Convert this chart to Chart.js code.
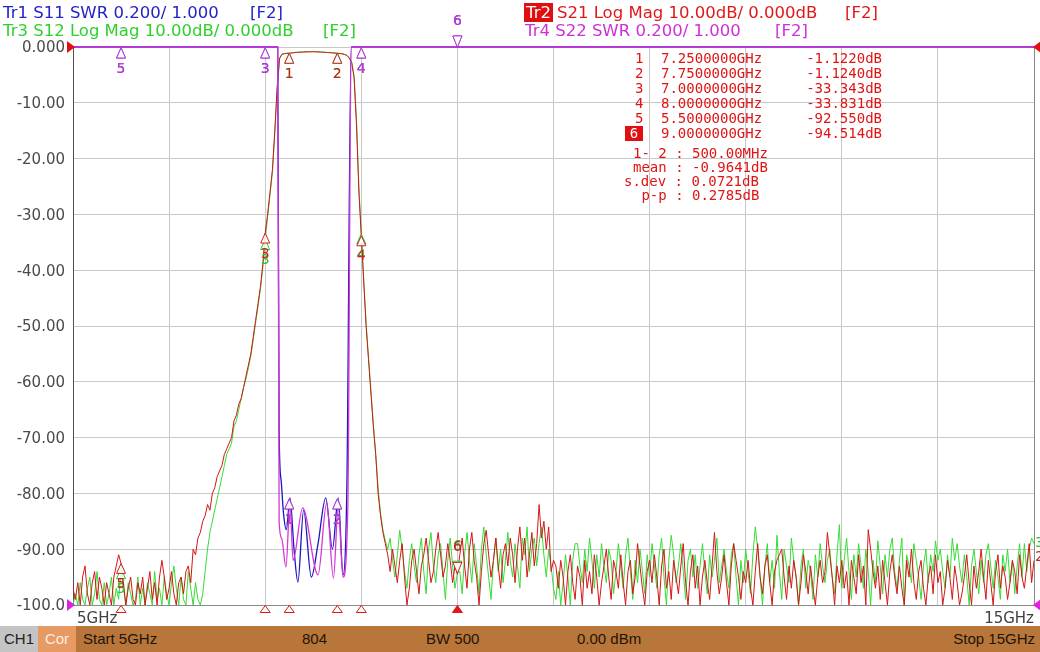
<!DOCTYPE html>
<html>
<head>
<meta charset="utf-8">
<script src="https://cdn.jsdelivr.net/npm/chart.js@4.4.1/dist/chart.umd.min.js"></script>
<style>
  html, body { margin: 0; padding: 0; background: #fff; }
  #wrap { position: relative; width: 1040px; height: 652px; overflow: hidden; font-family: "DejaVu Sans", sans-serif; }
  #c { position: absolute; left: 0; top: 0; }
  .hd { position: absolute; font-size: 16.5px; line-height: 20px; white-space: pre; }
  .mk { position: absolute; font-family: "DejaVu Sans Mono", monospace; font-size: 14px; line-height: 15px; color: #e01414; white-space: pre; }
  .ax { position: absolute; font-size: 15px; line-height: 16px; color: #404040; }
  #bar { position: absolute; left: 0; top: 626px; width: 1040px; height: 26px; background: #b8763a;
         font-family: "Liberation Sans", Arial, sans-serif; font-size: 15px; line-height: 26px; color: #1e1408; }
  #bar div { position: absolute; top: 0; height: 26px; white-space: pre; }
</style>
</head>
<body>
<div id="wrap">
  <canvas id="c" width="1040" height="652"></canvas>

  <div class="hd" style="left:3px;top:3px;color:#2323c8">Tr1 S11 SWR 0.200/ 1.000</div>
  <div class="hd" style="left:250px;top:3px;color:#2323c8">[F2]</div>
  <div class="hd" style="left:3px;top:21px;color:#2ed02e">Tr3 S12 Log Mag 10.00dB/ 0.000dB</div>
  <div class="hd" style="left:323px;top:21px;color:#2ed02e">[F2]</div>
  <div class="hd" style="left:524px;top:3px;width:29px;height:19px;background:#e01010;color:#fff;text-align:center;line-height:19px">Tr2</div>
  <div class="hd" style="left:557px;top:3px;color:#e01818">S21 Log Mag 10.00dB/ 0.000dB</div>
  <div class="hd" style="left:845px;top:3px;color:#e01818">[F2]</div>
  <div class="hd" style="left:525px;top:21px;color:#cc30dc">Tr4 S22 SWR 0.200/ 1.000</div>
  <div class="hd" style="left:775px;top:21px;color:#cc30dc">[F2]</div>

  <div id="table"></div>

  <div class="ax" style="left:77px;top:610px">5GHz</div>
  <div class="ax" style="right:6px;top:610px">15GHz</div>

  <div id="bar">
    <div style="left:0;width:38px;background:#c4c4c4;text-align:center;color:#222">CH1</div>
    <div style="left:38px;width:38px;background:#e89a64;text-align:center;color:#fbeee2">Cor</div>
    <div style="left:83px">Start 5GHz</div>
    <div style="left:302px">804</div>
    <div style="left:426px">BW 500</div>
    <div style="left:577px">0.00 dBm</div>
    <div style="right:5px">Stop 15GHz</div>
  </div>
</div>

<script>
// sweep
const sweepGHz = [5, 15];

// Tr2 S21 log mag (dB), 401 points across the sweep
const s21Db = [
  -97,-99,-96,-100,-95,-93,-98,-100,-96,-94,
  -99,-95,-97,-100,-96,-98,-100,-95,-93,-91,
  -92.55,-96,-100,-97,-95,-99,-100,-96,-98,-95,
  -100,-97,-94,-99,-96,-100,-95,-92,-95,-99,
  -97,-94,-98,-100,-96,-95,-98,-94,-93,-96,
  -90,-91,-88,-87,-85,-84,-82,-83,-80,-79,
  -77,-76,-75,-73,-72,-71,-70,-67,-66,-64,
  -63,-61,-59,-57,-55,-52,-49,-46,-43,-39,
  -33.343,-30,-26,-22,-15,-7,-2,-1.3,-1.2,-1.15,
  -1.122,-1.08,-1.02,-0.98,-0.94,-0.92,-0.9,-0.88,-0.87,-0.86,
  -0.85,-0.86,-0.88,-0.9,-0.93,-0.96,-0.99,-1.02,-1.05,-1.09,
  -1.124,-1.16,-1.22,-1.35,-1.5,-2.0,-2.8,-5.5,-14,-26,
  -33.831,-42,-50,-56,-62,-68,-73,-80,-84,-87,
  -89,-91,-94,-90,-93,-96,-92,-89,-95,-100,
  -97,-92,-90,-94,-98,-93,-91,-88,-92,-96,
  -94,-90,-87,-91,-95,-93,-89,-92,-96,-93,
  -94.514,-91,-88,-93,-97,-90,-87,-92,-95,-100,
  -94,-89,-86.6,-91,-95,-92,-88,-93,-97,-91,
  -89,-93,-88,-91,-96,-90,-86,-92,-88,-95,
  -91,-87,-93,-89,-82,-88,-85,-90,-86,-94,
  -92,-93,-97,-92,-95,-100,-94,-91,-96,-99,
  -93,-95,-100,-92,-97,-94,-98,-91,-95,-100,
  -96,-93,-90,-95,-99,-92,-94,-97,-91,-96,
  -100,-94,-92,-98,-95,-89,-93,-97,-100,-94,
  -92,-96,-91,-95,-100,-93,-90,-97,-94,-99,
  -92,-95,-98,-93,-89,-96,-100,-94,-91,-97,
  -93,-100,-95,-92,-96,-99,-93,-87,-94,-98,
  -95,-91,-96,-100,-93,-89,-92,-95,-99,-94,
  -96,-92,-97,-100,-94,-89,-95,-98,-93,-91,
  -96,-100,-94,-92,-91,-90,-95,-99,-93,-97,
  -92,-95,-100,-96,-91,-94,-98,-93,-97,-100,
  -95,-92,-96,-94,-87,-91,-95,-100,-93,-96,
  -92,-97,-94,-100,-92,-95,-98,-91,-96,-93,
  -100,-86.5,-90,-94,-97,-93,-99,-92,-96,-100,
  -94,-91,-95,-98,-93,-97,-100,-92,-95,-90,
  -96,-99,-94,-92,-97,-100,-95,-93,-98,-91,
  -96,-94,-100,-97,-92,-95,-99,-93,-96,-100,
  -98,-95,-91,-96,-100,-93,-97,-94,-90,-95,
  -99,-92,-96,-100,-94,-91,-97,-93,-95,-99,
  -96,-92,-94,-98,-91,-95,-97,-93,-89,-96,
  -92
];

// Tr3 S12 log mag (dB), same sweep
const s12Db = [
  -100,-98,-100,-96,-99,-100,-97,-95,-100,-98,
  -94,-99,-100,-96,-100,-98,-95,-100,-97,-99,
  -93.5,-97,-100,-96,-98,-100,-99,-95,-100,-97,
  -100,-96,-98,-100,-94,-99,-97,-100,-95,-98,
  -100,-96,-93,-97,-100,-95,-99,-100,-94,-97,
  -100,-96,-99,-100,-98,-94,-90,-87,-85,-83,
  -81,-79,-77,-75,-73,-72,-71,-68,-67,-65,
  -63,-61,-59.5,-57.5,-55.5,-52.5,-49.5,-46.5,-43.5,-39.5,
  -34.5,-30.5,-26.5,-22.5,-15.5,-7.5,-2.1,-1.28,-1.17,-1.12,
  -1.10,-1.05,-1.0,-0.95,-0.92,-0.9,-0.88,-0.86,-0.85,-0.84,
  -0.84,-0.85,-0.87,-0.89,-0.92,-0.95,-0.98,-1.01,-1.04,-1.08,
  -1.11,-1.15,-1.2,-1.32,-1.48,-2.0,-2.7,-5.2,-13,-25,
  -33.5,-41.5,-49.5,-55.5,-61.5,-67.5,-73,-79,-83.5,-86.5,
  -88.5,-90,-88,-92,-95,-91,-86.6,-90,-94,-97,
  -92,-89,-93,-96,-91,-88,-94,-98,-90,-87,
  -93,-96,-91,-89,-94,-99,-92,-88,-93,-97,
  -94.3,-94,-98,-91,-87,-92,-96,-89,-93,-98,
  -90,-86,-91,-95,-99,-92,-88,-94,-90,-96,
  -92,-87,-92,-95,-89,-93,-97,-88,-91,-86,
  -94,-90,-88,-93,-89,-86,-91,-95,-90,-93,
  -97,-99,-94,-100,-96,-91,-95,-100,-92,-89,
  -89,-93,-96,-90,-94,-88,-92,-97,-91,-95,
  -89,-93,-96,-90,-92,-98,-94,-89,-93,-97,
  -91,-88,-94,-99,-92,-96,-90,-94,-98,-91,
  -95,-89,-93,-97,-91,-88,-95,-100,-92,-87.5,
  -91,-96,-93,-89,-94,-99,-92,-90,-95,-91,
  -97,-93,-89,-94,-98,-91,-95,-92,-88,-96,
  -93,-90,-94,-97,-91,-89,-95,-100,-92,-96,
  -90,-94,-98,-91,-86,-90,-95,-100,-93,-89,
  -96,-92,-97,-87.5,-94,-99,-90,-93,-96,-88,
  -92,-95,-100,-93,-90,-97,-92,-94,-99,-91,
  -95,-89,-93,-96,-92,-90,-95,-98,-91,-85.6,
  -97,-92,-88,-94,-99,-91,-95,-89,-93,-97,
  -90,-94,-100,-92,-96,-88.5,-93,-98,-91,-95,
  -90,-88,-94,-97,-92,-88,-100,-91,-93,-96,
  -89,-92,-95,-99,-93,-90,-96,-91,-94,-88.5,
  -92,-90,-94,-97,-91,-95,-88,-92,-89,-93,
  -96,-91,-95,-100,-93,-90,-94,-98,-92,-96,
  -91,-89,-93,-97,-92,-95,-99,-91,-94,-90,
  -96,-92,-98,-93,-89,-95,-89,-94,-90,-88,
  -89
];

// Tr1 S11 and Tr4 S22 (SWR), only the passband comes down from the top
const s11Freq = [5, 7.13, 7.145, 7.165, 7.19, 7.22, 7.258, 7.30, 7.34, 7.40, 7.48, 7.55, 7.63, 7.70, 7.76, 7.81, 7.85, 7.895, 15];
const s11Swr  = [3, 3, 1.62, 1.45, 1.33, 1.27, 1.384, 1.2, 1.082, 1.34, 1.10, 1.22, 1.384, 1.2, 1.384, 1.108, 1.43, 3, 3];
const s22Freq = [5, 7.13, 7.145, 7.17, 7.216, 7.258, 7.29, 7.39, 7.55, 7.64, 7.71, 7.76, 7.81, 7.86, 7.895, 15];
const s22Swr  = [3, 3, 1.30, 1.24, 1.136, 1.37, 1.16, 1.348, 1.108, 1.366, 1.096, 1.352, 1.10, 1.352, 3, 3];

// markers
const markerNames = [1, 2, 3, 4, 5, 6];
const markerFreqs = [7.25, 7.75, 7.0, 8.0, 5.5, 9.0];
const markerS21 = [-1.122, -1.124, -33.343, -33.831, -92.55, -94.514];
const markerS12 = [-1.12, -1.11, -34.5, -33.5, -93.5, -94.3];
const markerS11 = [1.38, 1.38, 3, 3, 3, 3];
const markerS22 = [1.38, 1.38, 3, 3, 3, 3];
const activeMarker = 5;
const statLines = ["1- 2 : 500.00MHz", "mean : -0.9641dB", "s.dev : 0.0721dB", " p-p : 0.2785dB"];
const statLeft = [633, 633, 624, 633];

const yTickLabels = ["0.000", "-10.00", "-20.00", "-30.00", "-40.00", "-50.00", "-60.00", "-70.00", "-80.00", "-90.00", "-100.0"];

// marker table
const table = document.getElementById("table");
function put(txt, left, top, extra) {
  const d = document.createElement("div");
  d.className = "mk";
  d.textContent = txt;
  d.style.left = left + "px";
  d.style.top = top + "px";
  if (extra) Object.assign(d.style, extra);
  table.appendChild(d);
}
markerNames.forEach((n, i) => {
  const top = 50.5 + i * 15;
  if (i === activeMarker) {
    put(String(n), 625, top, { width: "18px", textAlign: "center", background: "#e01010", color: "#fff" });
  } else {
    put(String(n), 635, top);
  }
  put(markerFreqs[i].toFixed(7) + "GHz", 661, top);
  put(markerS21[i].toPrecision(5) + "dB", 0, top, { left: "auto", right: (1040 - 882) + "px" });
});
statLines.forEach((s, i) => put(s, statLeft[i], 145.5 + i * 14));

// chart
const step = (sweepGHz[1] - sweepGHz[0]) / (s21Db.length - 1);
const freqs = s21Db.map((_, i) => sweepGHz[0] + i * step);
const pts = (xs, ys) => ys.map((y, i) => ({ x: xs[i], y: y }));

function tri(ctx, x, y, dir, w, h, fill) {
  ctx.beginPath();
  ctx.moveTo(x, y);
  ctx.lineTo(x - w / 2, y + dir * h);
  ctx.lineTo(x + w / 2, y + dir * h);
  ctx.closePath();
  ctx.fillStyle = fill;
  ctx.fill();
  ctx.stroke();
}

const markerPlugin = {
  id: "markers",
  afterDatasetsDraw(chart) {
    const { ctx, chartArea: a, scales } = chart;
    const xs = scales.x, db = scales.y, swr = scales.swr;
    ctx.save();
    ctx.lineWidth = 1;
    ctx.font = "14px 'DejaVu Sans'";
    ctx.textAlign = "center";
    ctx.textBaseline = "middle";

    // right border
    ctx.strokeStyle = "#8a8a8a";
    ctx.beginPath();
    ctx.moveTo(Math.round(a.right) + 0.5, a.top);
    ctx.lineTo(Math.round(a.right) + 0.5, a.bottom);
    ctx.stroke();

    // reference level arrows
    const y0 = db.getPixelForValue(0), y1 = swr.getPixelForValue(1);
    [[y0, "#e01010"], [y1, "#e020e0"]].forEach(([y, c]) => {
      ctx.fillStyle = c;
      ctx.beginPath();
      ctx.moveTo(a.left + 2, y); ctx.lineTo(a.left - 6, y - 6); ctx.lineTo(a.left - 6, y + 6); ctx.closePath(); ctx.fill();
      ctx.beginPath();
      ctx.moveTo(a.right - 1, y); ctx.lineTo(a.right + 7, y - 6); ctx.lineTo(a.right + 7, y + 6); ctx.closePath(); ctx.fill();
    });

    const traces = [
      { vals: markerS12, scale: db, color: "#2fc02f" },
      { vals: markerS21, scale: db, color: "#c8241c" },
      { vals: markerS11, scale: swr, color: "#2424c4" },
      { vals: markerS22, scale: swr, color: "#c63ad6" }
    ];
    traces.forEach(t => {
      t.vals.forEach((v, i) => {
        const px = xs.getPixelForValue(markerFreqs[i]);
        const py = Math.min(Math.max(t.scale.getPixelForValue(v), a.top + 1), a.bottom);
        ctx.strokeStyle = t.color;
        if (i === activeMarker) {
          tri(ctx, px, py - 1, -1, 9, 11, "#fff");
          ctx.fillStyle = t.color;
          ctx.fillText(String(markerNames[i]), px, py - 27);
        } else {
          tri(ctx, px, py, 1, 9, 10, "rgba(255,255,255,0.85)");
          ctx.fillStyle = t.color;
          ctx.fillText(String(markerNames[i]), px, py + 21);
        }
      });
    });

    // stimulus markers on the frequency axis
    ctx.strokeStyle = "#e01818";
    markerFreqs.forEach((f, i) => {
      const px = xs.getPixelForValue(f);
      tri(ctx, px, a.bottom + 0.5, 1, 10, 7, i === activeMarker ? "#e01818" : "#fff");
    });

    // trace end labels
    ctx.textAlign = "left";
    ctx.fillStyle = "#2fc02f";
    ctx.fillText("3", a.right + 1, db.getPixelForValue(s12Db[s12Db.length - 1]));
    ctx.fillStyle = "#c8241c";
    ctx.fillText("2", a.right + 1, db.getPixelForValue(s21Db[s21Db.length - 1]) - 3);
    ctx.restore();
  }
};

new Chart(document.getElementById("c"), {
  type: "line",
  data: {
    datasets: [
      { label: "S22", data: pts(s22Freq, s22Swr), yAxisID: "swr", borderColor: "#d636d6", borderWidth: 1.3, cubicInterpolationMode: "monotone", order: 0, clip: 2 },
      { label: "S11", data: pts(s11Freq, s11Swr), yAxisID: "swr", borderColor: "#1818c0", borderWidth: 1.3, cubicInterpolationMode: "monotone", order: 1, clip: 2 },
      { label: "S21", data: pts(freqs, s21Db), yAxisID: "y", borderColor: "#d41616", borderWidth: 1, order: 2 },
      { label: "S12", data: pts(freqs, s12Db), yAxisID: "y", borderColor: "#36dc36", borderWidth: 1, order: 3 }
    ]
  },
  options: {
    responsive: false,
    animation: false,
    devicePixelRatio: 1,
    layout: { padding: { top: 47, right: 6, bottom: 47, left: 0 } },
    plugins: { legend: { display: false }, tooltip: { enabled: false } },
    elements: { point: { radius: 0 }, line: { tension: 0 } },
    scales: {
      x: {
        type: "linear", min: sweepGHz[0], max: sweepGHz[1],
        ticks: { display: false, stepSize: 1 },
        grid: { color: "#c8c8c8", drawTicks: false },
        border: { color: "#8a8a8a" },
        afterFit: s => { s.height = 0; }
      },
      y: {
        min: -100, max: 0,
        ticks: { stepSize: 10, padding: 8, labelOffset: 1.5, color: "#4a4a4a", font: { family: "DejaVu Sans", size: 15 },
                 callback: v => yTickLabels[Math.round(-v / 10)] },
        grid: { color: "#c8c8c8", drawTicks: false },
        border: { color: "#505050" },
        afterFit: s => { s.width = 73; }
      },
      swr: { type: "linear", min: 1, max: 3, display: false }
    }
  },
  plugins: [markerPlugin]
});
</script>
</body>
</html>
